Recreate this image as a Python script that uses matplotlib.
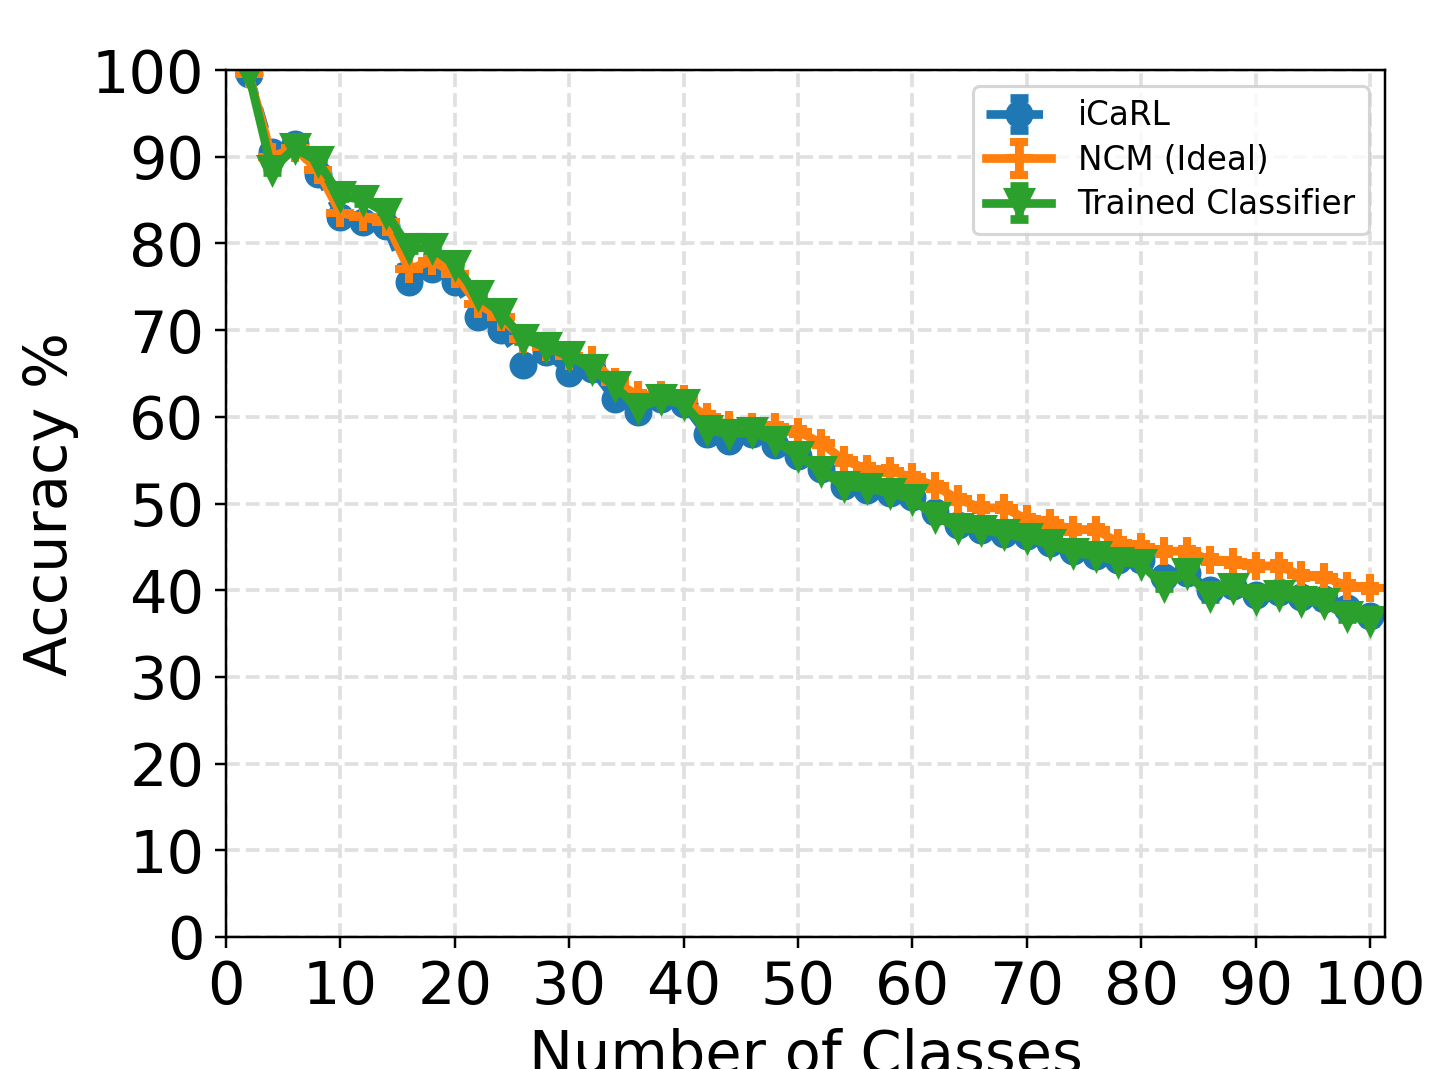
import numpy as np
import matplotlib
matplotlib.use('Agg')
import matplotlib.pyplot as plt

classes = list(range(2, 101, 2))

icarl = [99.5, 90.5, 91.5, 88.0, 83.0, 82.5, 82.0, 75.5, 77.0, 75.5,
         71.5, 70.0, 66.0, 67.5, 65.0, 65.5, 62.0, 60.5, 62.0, 61.5,
         58.0, 57.2, 58.0, 56.8, 55.5, 54.0, 52.0, 51.5, 51.2, 50.8,
         49.0, 47.5, 47.0, 46.5, 46.2, 45.5, 44.5, 44.0, 43.5, 43.5,
         41.5, 42.0, 40.0, 40.5, 39.5, 39.8, 39.2, 39.0, 38.0, 37.0]

ncm = [99.5, 90.0, 91.0, 88.5, 83.5, 83.0, 82.5, 77.0, 78.0, 76.5,
       73.0, 71.5, 69.0, 68.0, 67.0, 66.5, 64.0, 62.5, 62.5, 62.0,
       60.0, 59.0, 58.8, 58.8, 58.3, 57.0, 55.0, 54.0, 53.8, 53.0,
       52.0, 50.5, 49.5, 49.5, 48.2, 47.8, 47.0, 47.0, 45.5, 45.0,
       44.5, 44.5, 43.5, 43.2, 42.8, 42.8, 41.7, 41.5, 40.5, 40.2]

trained = [99.5, 88.5, 91.0, 89.5, 85.5, 85.0, 83.5, 79.5, 79.5, 77.5,
           74.0, 72.0, 69.0, 68.0, 67.0, 65.5, 63.5, 61.0, 62.0, 61.5,
           58.5, 58.0, 58.2, 57.2, 55.5, 53.8, 52.0, 51.8, 51.2, 50.5,
           48.5, 47.2, 47.0, 46.5, 46.0, 45.3, 44.3, 44.0, 43.3, 43.0,
           40.5, 42.0, 39.3, 40.2, 39.0, 39.5, 38.8, 38.5, 37.0, 36.5]

err = [0.3] * len(classes)

fig = plt.figure(figsize=(6.4, 1069 / 223.75), dpi=223.75)
ax = fig.add_axes([226 / 1432, 1 - 937 / 1069, (1385 - 226) / 1432, (937 - 70) / 1069])

ax.errorbar(classes, icarl, yerr=err, fmt='o', ls=(0, (2.5, 1.5)), color='#1f77b4', lw=2.8,
            ms=8, capsize=3, capthick=2.8, label='iCaRL')
ax.errorbar(classes, ncm, yerr=err, fmt='+-', color='#ff7f0e', lw=2.8,
            ms=9, mew=2.6, capsize=3, capthick=2.8, label='NCM (Ideal)')
ax.errorbar(classes, trained, yerr=err, fmt='v-', color='#2ca02c', lw=2.8,
            ms=9, capsize=3, capthick=2.8, label='Trained Classifier')

ax.set_xlim(0, 101.3)
ax.set_ylim(0, 100)
ax.set_xticks(range(0, 101, 10))
ax.set_yticks(range(0, 101, 10))
ax.tick_params(labelsize=19)
ax.grid(True, ls='--', color='#e0e0e0', lw=1.2)
ax.set_xlabel('Number of Classes', fontsize=19, labelpad=4)
ax.set_ylabel('Accuracy %', fontsize=19)
ax.legend(loc='upper right', fontsize=10.5, labelspacing=0.35)

fig.savefig('out.png', dpi=223.75)
